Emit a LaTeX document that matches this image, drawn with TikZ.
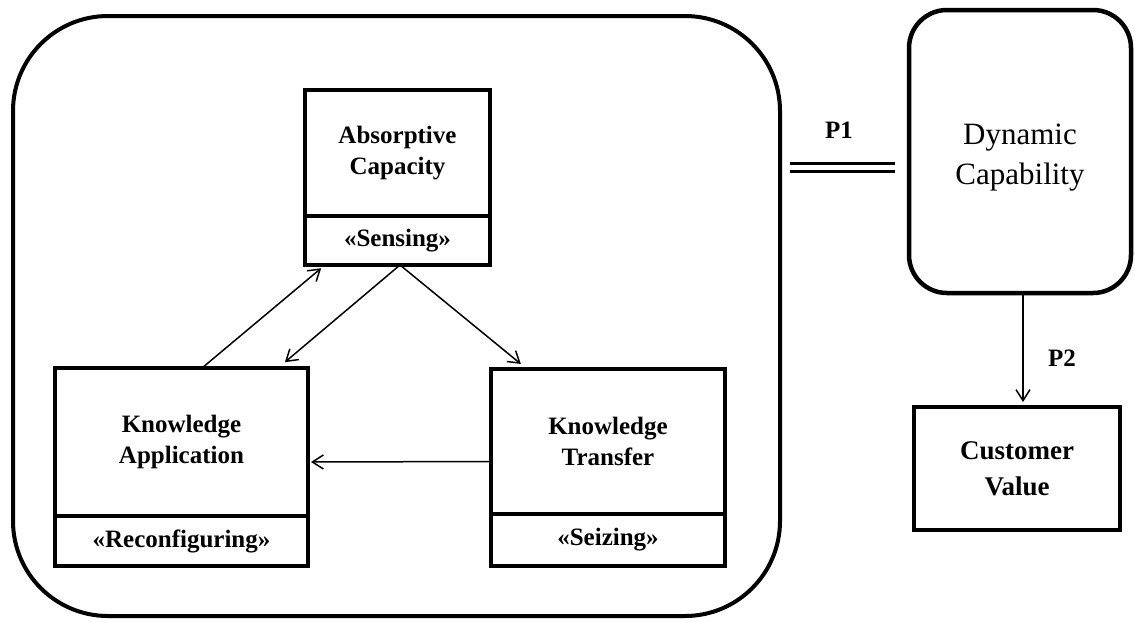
\documentclass[tikz,border=0pt]{standalone}
\usepackage{fontspec}
\setmainfont{Liberation Serif}
\usetikzlibrary{arrows.meta,positioning,calc}

\tikzset{
  boxpart/.style={draw, line width=4.5pt, rectangle, inner sep=0pt, outer sep=0pt,
    align=center, font=\bfseries\fontsize{25}{30.5}\selectfont},
  grpbox/.style={draw, line width=4pt, rectangle, rounded corners=95pt,
    inner sep=0pt, outer sep=0pt, minimum width=767pt, minimum height=600pt},
  capbox/.style={draw, line width=4.5pt, rectangle, rounded corners=38pt,
    inner sep=0pt, outer sep=0pt},
  captext/.style={align=center, inner sep=0pt, font=\fontsize{31}{40}\selectfont},
  valbox/.style={draw, line width=4.5pt, rectangle, inner sep=0pt, outer sep=0pt,
    align=center, font=\bfseries\fontsize{27}{36}\selectfont},
  arr/.style={line width=1.5pt, -{Straight Barb[length=11pt,width=14pt]}},
  plabel/.style={font=\bfseries\fontsize{25}{29}\selectfont, inner sep=0pt},
}

\begin{document}
\begin{tikzpicture}[x=1pt, y=-1pt]
  \useasboundingbox (0,0) rectangle (1135,622);

  % enclosing group of the three knowledge processes
  \node[grpbox] (grp) at (396.5,316) {};

  % Absorptive Capacity
  \node[boxpart, minimum width=185pt, minimum height=126pt] (ac) at (397.5,153)
    {Absorptive\\Capacity};
  \node[boxpart, minimum width=185pt, minimum height=49pt, anchor=north] (acs)
    at (ac.south) {\raisebox{-3pt}{«Sensing»}};

  % Knowledge Application
  \node[boxpart, minimum width=253pt, minimum height=148pt] (ka) at (181.5,442)
    {Knowledge\\Application};
  \node[boxpart, minimum width=253pt, minimum height=50pt, anchor=north] (kas)
    at (ka.south) {«Reconfiguring»};

  % Knowledge Transfer
  \node[boxpart, minimum width=234pt, minimum height=145pt] (kt) at (608,441.5)
    {Knowledge\\Transfer};
  \node[boxpart, minimum width=234pt, minimum height=52pt, anchor=north] (kts)
    at (kt.south) {\raisebox{-4pt}{«Seizing»}};

  % Dynamic Capability and Customer Value
  \node[capbox, minimum width=222pt, minimum height=283pt] (dc) at (1020,151.5) {};
  \node[captext] (dct) at ([yshift=-6pt]dc.center) {Dynamic\\Capability};
  \node[valbox, minimum width=206pt, minimum height=123pt] (cv) at (1017,468.5)
    {Customer\\Value};

  % arrows between the processes
  \draw[arr, shorten >=5pt] ([xshift=20.5pt]ka.north) -- ([xshift=-72.5pt]acs.south);
  \draw[arr, shorten >=9pt] ([xshift=2.5pt]acs.south) -- ([xshift=96.5pt]ka.north);
  \draw[arr, shorten >=8pt] ([xshift=2.5pt]acs.south) -- ([xshift=-81pt]kt.north);
  \draw[arr, shorten >=3pt] ([yshift=-20pt]kt.west) -- ([yshift=-20pt]ka.east);

  % P1: equivalence link between the group and dynamic capability
  \coordinate (p1a) at (790,167.5);
  \coordinate (p1b) at (895,167.5);
  \draw[line width=3pt, double=white, double distance=5.5pt] (p1a) -- (p1b);
  \node[plabel] (p1) at (839,130) {P1};

  % P2: dynamic capability leads to customer value
  \draw[arr, shorten >=5pt] ([xshift=3pt]dc.south) -- ([xshift=6pt]cv.north);
  \node[plabel] (p2) at (1062,358) {P2};
\end{tikzpicture}
\end{document}
